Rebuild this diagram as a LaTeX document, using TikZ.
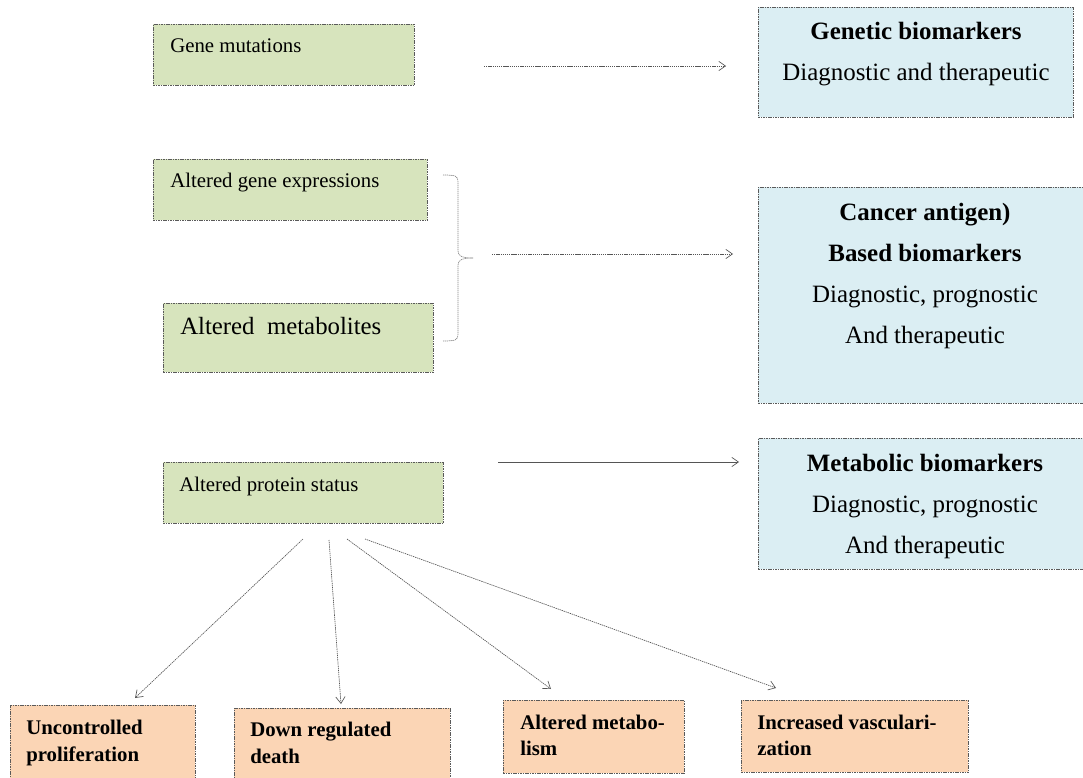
\documentclass[tikz,border=0pt]{standalone}
\usepackage{fontspec}
\setmainfont{Liberation Serif}
\usetikzlibrary{arrows.meta}
\definecolor{gfill}{HTML}{D7E4BD}
\definecolor{bfill}{HTML}{DBEEF3}
\definecolor{ofill}{HTML}{FBD5B5}
\definecolor{bordc}{HTML}{5A5A5A}
\definecolor{linec}{HTML}{555555}
\begin{document}
\begin{tikzpicture}[x=0.75pt,y=-0.75pt,
  box/.style={draw=bordc, line width=0.6pt, dash pattern=on 1.2pt off 0.6pt, anchor=north west, inner sep=0pt},
  gbox/.style={box, fill=gfill},
  bbox/.style={box, fill=bfill},
  obox/.style={box, fill=ofill},
  small/.style={anchor=base west, inner sep=0pt, font=\fontsize{15.6pt}{18pt}\selectfont},
  big/.style={anchor=base, inner sep=0pt, font=\fontsize{18.7pt}{22pt}\selectfont},
  bigb/.style={big, font=\fontsize{18.7pt}{22pt}\selectfont\bfseries},
  botb/.style={anchor=base west, inner sep=0pt, font=\fontsize{15.6pt}{18pt}\selectfont\bfseries},
  arr/.style={draw=linec, line width=0.5pt, -{Straight Barb[length=5pt,width=7pt]}},
  dotarr/.style={arr, dash pattern=on 1pt off 0.6pt},
  brc/.style={draw=linec!70, line width=0.5pt, dash pattern=on 1pt off 0.5pt}]
\useasboundingbox (0,0) rectangle (1083,778);

% left green boxes
\node[gbox, minimum width=261*0.75pt, minimum height=61*0.75pt] (gm) at (153,24) {};
\node[small] (gmt) at (170,52) {Gene mutations};
\node[gbox, minimum width=274*0.75pt, minimum height=61*0.75pt] (ge) at (153,159) {};
\node[small] (get) at (170,187) {Altered gene expressions};
\node[gbox, minimum width=270*0.75pt, minimum height=69*0.75pt] (am) at (163,303) {};
\node[anchor=base west, inner sep=0pt, font=\fontsize{18.6pt}{22pt}\selectfont] (amt) at (180,334) {Altered\ \ metabolites};
\node[gbox, minimum width=280*0.75pt, minimum height=61*0.75pt] (ap) at (163,462) {};
\node[small] (apt) at (179,491) {Altered protein status};

% right blue boxes
\node[bbox, minimum width=315*0.75pt, minimum height=110*0.75pt] (gb) at (758,7) {};
\node[bigb] (gb1) at (916,40) {Genetic biomarkers};
\node[big] (gb2) at (916,80) {Diagnostic and therapeutic};
\node[bbox, minimum width=334*0.75pt, minimum height=216*0.75pt] (cb) at (758,187) {};
\node[bigb] (cb1) at (925,220) {Cancer antigen)};
\node[bigb] (cb2) at (925,261) {Based biomarkers};
\node[big] (cb3) at (925,302) {Diagnostic, prognostic};
\node[big] (cb4) at (925,343) {And therapeutic};
\node[bbox, minimum width=334*0.75pt, minimum height=131*0.75pt] (mb) at (758,438) {};
\node[bigb] (mb1) at (925,471) {Metabolic biomarkers};
\node[big] (mb2) at (925,512) {Diagnostic, prognostic};
\node[big] (mb3) at (925,553) {And therapeutic};

% bottom orange boxes
\node[obox, minimum width=185*0.75pt, minimum height=90*0.75pt] (up) at (10,705) {};
\node[botb] (up1) at (26,734) {Uncontrolled};
\node[botb] (up2) at (26,761) {proliferation};
\node[obox, minimum width=216*0.75pt, minimum height=90*0.75pt] (dr) at (234,708) {};
\node[botb] (dr1) at (250,736) {Down regulated};
\node[botb] (dr2) at (250,763) {death};
\node[obox, minimum width=181*0.75pt, minimum height=73*0.75pt] (ame) at (503,700) {};
\node[botb] (ame1) at (520,729) {Altered metabo-};
\node[botb] (ame2) at (520,755) {lism};
\node[obox, minimum width=227*0.75pt, minimum height=72*0.75pt] (iv) at (741,700) {};
\node[botb] (iv1) at (757,729) {Increased vasculari-};
\node[botb] (iv2) at (757,755) {zation};

% brace
\coordinate (bt) at (473,258);
\draw[brc] (443,175) .. controls (456,175) and (458,176) .. (458,182) -- (458,251)
  .. controls (458,256) and (462,258) .. (bt);
\draw[brc] (443,341) .. controls (456,341) and (458,340) .. (458,334) -- (458,265)
  .. controls (458,260) and (462,258) .. (bt);

% horizontal arrows
\coordinate (a1s) at (484,66); \coordinate (a1e) at (726,66);
\draw[dotarr] (a1s) -- (a1e);
\coordinate (a2s) at (492,254); \coordinate (a2e) at (733,254);
\draw[dotarr] (a2s) -- (a2e);
\coordinate (a3s) at (498,462); \coordinate (a3e) at (739,462);
\draw[arr] (a3s) -- (a3e);

% fan arrows
\coordinate (f1s) at (303,539); \coordinate (f1e) at (135,698);
\coordinate (f2s) at (329,540); \coordinate (f2e) at (341,704);
\coordinate (f3s) at (347,539); \coordinate (f3e) at (551,689);
\coordinate (f4s) at (365,539); \coordinate (f4e) at (776,688);
\draw[dotarr] (f1s) -- (f1e);
\draw[dotarr] (f2s) -- (f2e);
\draw[dotarr] (f3s) -- (f3e);
\draw[dotarr] (f4s) -- (f4e);
\end{tikzpicture}
\end{document}
